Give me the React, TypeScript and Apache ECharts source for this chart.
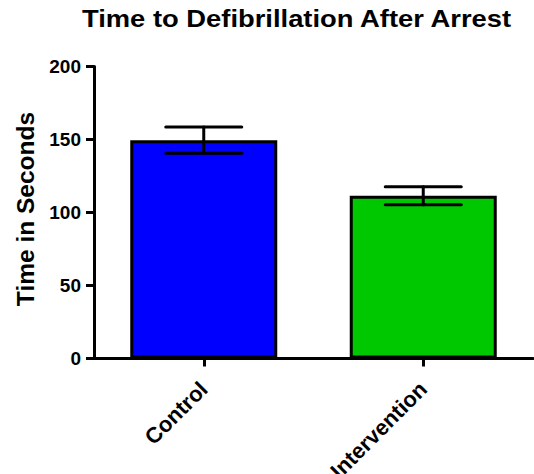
import React, { useEffect, useRef } from "react";
import * as echarts from "echarts";

const categories = ["Control", "Intervention"];
const means = [149.5, 111.5];
const errors = [9, 6.2];
const barColors = ["#0000FF", "#00C800"];
const yTicks = [0, 50, 100, 150, 200];

export default function App() {
  const ref = useRef<HTMLDivElement>(null);
  useEffect(() => {
    if (!ref.current) return;
    const chart = echarts.init(ref.current, null, { renderer: "svg" });
    const font = "'Liberation Sans', Arial, sans-serif";
    chart.setOption({
      animation: false,
      grid: {
        left: 94,
        right: 1,
        top: 66.5,
        bottom: 115.5,
        containLabel: false,
        outerBoundsMode: "none",
      },
      xAxis: {
        type: "category",
        data: categories,
        axisLine: { lineStyle: { color: "#000", width: 3 } },
        axisTick: { show: true, alignWithLabel: true, length: 8, lineStyle: { color: "#000", width: 3 } },
        axisLabel: {
          rotate: 45,
          margin: 27,
          fontFamily: font,
          fontWeight: "bold",
          fontSize: 22,
          color: "#000",
        },
      },
      yAxis: {
        type: "value",
        min: yTicks[0],
        max: yTicks[yTicks.length - 1],
        interval: 50,
        splitLine: { show: false },
        axisLine: { show: true, lineStyle: { color: "#000", width: 3 } },
        axisTick: { show: true, length: 8, lineStyle: { color: "#000", width: 3 } },
        axisLabel: {
          margin: 13,
          fontFamily: font,
          fontWeight: "bold",
          fontSize: 19,
          color: "#000",
        },
      },
      graphic: [
        {
          type: "text",
          x: 296.5,
          y: 19,
          scaleX: 1.19,
          style: {
            text: "Time to Defibrillation After Arrest",
            fontFamily: font,
            fontWeight: "bold",
            fontSize: 23,
            fill: "#000",
            align: "center",
            verticalAlign: "middle",
          },
        },
        {
          type: "text",
          x: 25,
          y: 209,
          rotation: Math.PI / 2,
          style: {
            text: "Time in Seconds",
            fontFamily: font,
            fontWeight: "bold",
            fontSize: 24.5,
            fill: "#000",
            align: "center",
            verticalAlign: "middle",
          },
        },
      ],
      series: [
        {
          type: "bar",
          barWidth: 147,
          data: means.map((v, i) => ({
            value: v,
            itemStyle: { color: barColors[i], borderColor: "#000", borderWidth: 3 },
          })),
          z: 2,
        },
        {
          type: "custom",
          z: 3,
          data: means.map((m, i) => [i, m - errors[i], m + errors[i]]),
          renderItem: (params: any, api: any) => {
            const idx = api.value(0);
            const lo = api.coord([idx, api.value(1)]);
            const hi = api.coord([idx, api.value(2)]);
            const half = 38;
            const style = { stroke: "#000", lineWidth: 3, lineCap: "round" };
            return {
              type: "group",
              children: [
                { type: "line", shape: { x1: hi[0], y1: hi[1], x2: lo[0], y2: lo[1] }, style },
                { type: "line", shape: { x1: hi[0] - half, y1: hi[1], x2: hi[0] + half, y2: hi[1] }, style },
                { type: "line", shape: { x1: lo[0] - half, y1: lo[1], x2: lo[0] + half, y2: lo[1] }, style },
              ],
            };
          },
        },
      ],
    });
    return () => chart.dispose();
  }, []);
  return <div ref={ref} style={{ width: 534, height: 474, position: "absolute", left: 0, top: 0 }} />;
}
